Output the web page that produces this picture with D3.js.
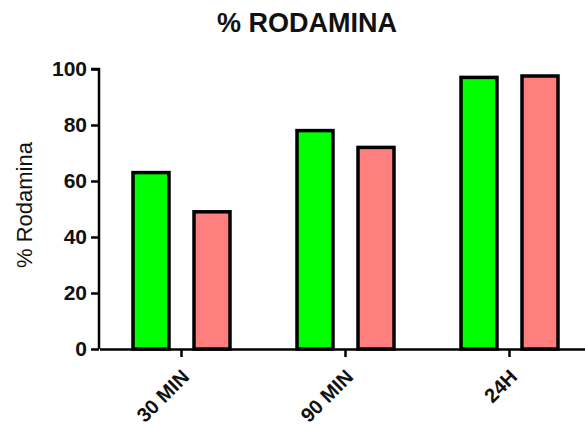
<!DOCTYPE html>
<html>
<head>
<meta charset="utf-8">
<script src="https://cdn.jsdelivr.net/npm/d3@7"></script>
<style>
  html, body { margin: 0; padding: 0; background: #fff; }
  svg { display: block; font-family: Arial, "Liberation Sans", Helvetica, sans-serif; }
</style>
</head>
<body>
<script>
const categories = ["30 MIN", "90 MIN", "24H"];
const seriesNames = ["A", "B"];
const seriesA = [63, 78, 97];
const seriesB = [49, 72, 97.5];
const yTicks = [0, 20, 40, 60, 80, 100];
const colors = ["#00ff00", "#ff7f7f"];

const W = 585, H = 426;
const svg = d3.select("body").append("svg").attr("width", W).attr("height", H);

const x0 = d3.scaleBand().domain(categories).range([99.5, 591.5]).padding(0);
const x1 = d3.scaleBand().domain(seriesNames).range([x0.bandwidth()/2 - 61, x0.bandwidth()/2 + 61])
  .paddingInner(0.41).paddingOuter(0.205);
const y = d3.scaleLinear().domain([0, 100]).range([349, 69]);

const data = categories.map((c, i) => ({ cat: c, vals: [seriesA[i], seriesB[i]] }));

// bars
const g = svg.append("g");
data.forEach(d => {
  d.vals.forEach((v, j) => {
    g.append("rect")
      .attr("x", x0(d.cat) + x1(seriesNames[j]))
      .attr("y", y(v))
      .attr("width", x1.bandwidth())
      .attr("height", y(0) - y(v))
      .attr("fill", colors[j])
      .attr("stroke", "#000")
      .attr("stroke-width", 3.5);
  });
});

// y axis
const yAxis = svg.append("g").attr("transform", "translate(99,0)")
  .call(d3.axisLeft(y).tickValues(yTicks).tickSize(8).tickPadding(4).tickFormat(d3.format("d")));
yAxis.select(".domain").attr("stroke", "#000").attr("stroke-width", 2.5).attr("d", `M-8,${y(100)}H0V${y(0)}`);
yAxis.selectAll(".tick line").attr("stroke", "#000").attr("stroke-width", 2.5);
yAxis.selectAll(".tick text").attr("font-size", 21).attr("font-weight", "bold").attr("fill", "#111")
  .attr("font-family", "Arial, 'Liberation Sans', sans-serif");

// x axis
const xAxis = svg.append("g").attr("transform", `translate(0,${y(0)})`)
  .call(d3.axisBottom(x0).tickSize(8).tickSizeOuter(0));
xAxis.select(".domain").attr("stroke", "#000").attr("stroke-width", 2.5);
xAxis.selectAll(".tick line").attr("stroke", "#000").attr("stroke-width", 2.5);
xAxis.selectAll(".tick text")
  .attr("font-size", 20).attr("font-weight", "bold").attr("fill", "#111")
  .attr("font-family", "Arial, 'Liberation Sans', sans-serif")
  .attr("text-anchor", "end")
  .attr("dy", null)
  .attr("y", null)
  .attr("transform", "translate(9,29) rotate(-45)");

// y label
svg.append("text")
  .attr("transform", "translate(32,205) rotate(-90)")
  .attr("text-anchor", "middle")
  .attr("font-size", 22)
  .attr("fill", "#111")
  .text("% Rodamina");

// title
svg.append("text")
  .attr("x", 307).attr("y", 32)
  .attr("text-anchor", "middle")
  .attr("font-size", 27)
  .attr("font-weight", "bold")
  .attr("fill", "#111")
  .text("% RODAMINA");
</script>
</body>
</html>
